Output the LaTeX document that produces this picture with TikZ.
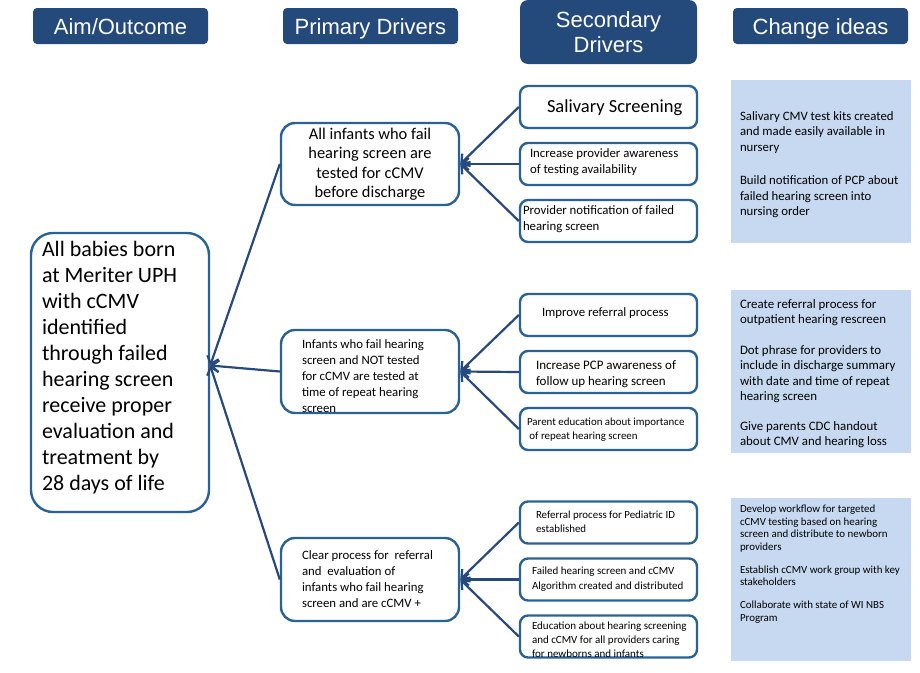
\documentclass[tikz,border=0pt]{standalone}
\usepackage{fontspec}
\setmainfont{Carlito}
\newfontfamily\hdfont{Liberation Sans}
\usetikzlibrary{arrows.meta}
\definecolor{hdblue}{RGB}{35,74,123}
\definecolor{bxblue}{RGB}{40,98,150}
\definecolor{arblue}{RGB}{38,74,125}
\definecolor{cifill}{RGB}{198,217,240}
\newcommand{\fs}[2]{\fontsize{#1}{#2}\selectfont}
\begin{document}
\begin{tikzpicture}[x=1pt,y=-1pt,
  hdr/.style={fill=hdblue, text=white, rounded corners=4pt, font=\hdfont\fs{22}{25}, align=center, inner sep=0pt, minimum width=175pt, minimum height=36pt},
  drv/.style={draw=bxblue, line width=2.4pt, fill=white, inner sep=0pt},
  pbox/.style={drv, rounded corners=14pt, minimum width=178pt, minimum height=83pt},
  sbox/.style={drv, rounded corners=8pt, minimum width=177pt, minimum height=42pt},
  cibox/.style={fill=cifill, inner sep=0pt, minimum width=180pt, minimum height=163pt},
  txt/.style={inner sep=0pt, align=left, anchor=west},
  conn/.style={draw=arblue, line width=2.2pt, -{Straight Barb[length=7pt,width=12pt]}}
]
\useasboundingbox (0,0) rectangle (920,672);

% headers
\node[hdr, text depth=0pt, text height=16pt] (hA) at (120.5,26) {Aim/Outcome};
\node[hdr, text depth=0pt, text height=16pt] (hP) at (370.5,26) {Primary Drivers};
\node[hdr, minimum width=177pt, minimum height=64pt, rounded corners=8pt] (hS) at (608.5,32) {Secondary\\Drivers};
\node[hdr, text depth=0pt, text height=16pt] (hC) at (820.5,26) {Change ideas};

% aim
\node[drv, rounded corners=22pt, minimum width=178pt, minimum height=279pt] (aim) at (120,372.5) {};
\node[txt, font=\fs{22}{26}] (aimt) at ([xshift=12pt,yshift=5pt]aim.west)
 {All babies born\\at Meriter UPH\\with cCMV\\identified\\through failed\\hearing screen\\receive proper\\evaluation and\\treatment by\\28 days of life};

% primary drivers
\node[pbox, minimum height=82pt, align=center, font=\fs{16.4}{19.5}] (p1) at (370,164)
 {All infants who fail\\hearing screen are\\tested for cCMV\\before discharge};
\node[pbox] (p2) at (370,371.5) {};
\node[txt, font=\fs{12.8}{16}] (p2t) at ([xshift=22pt,yshift=-5pt]p2.west)
 {Infants who fail hearing\\screen and NOT tested\\for cCMV are tested at\\time of repeat hearing\\screen};
\node[pbox] (p3) at (370,579.5) {};
\node[txt, font=\fs{12.8}{16}] (p3t) at ([xshift=22pt,yshift=0pt]p3.west)
 {Clear process for\ \ referral\\and\ \ evaluation of\\infants who fail hearing\\screen and are cCMV +};

% secondary drivers
\node[sbox] (s1) at (608.5,107) {};
\node[txt, font=\fs{18.5}{20}] (s1t) at ([xshift=28pt,yshift=-1pt]s1.west) {Salivary Screening};
\node[sbox] (s2) at (608.5,164) {};
\node[txt, font=\fs{12.8}{16}] (s2t) at ([xshift=11pt,yshift=2pt]s2.west) {Increase provider awareness\\of testing availability};
\node[sbox] (s3) at (608.5,221) {};
\node[txt, font=\fs{12.8}{16}] (s3t) at ([xshift=4pt,yshift=2pt]s3.west) {Provider notification of failed\\hearing screen};
\node[sbox] (s4) at (608.5,315) {};
\node[txt, font=\fs{12.8}{16}] (s4t) at ([xshift=23pt,yshift=2pt]s4.west) {Improve referral process};
\node[sbox] (s5) at (608.5,372) {};
\node[txt, font=\fs{13}{16}] (s5t) at ([xshift=17pt,yshift=-2pt]s5.west) {Increase PCP awareness of\\follow up hearing screen};
\node[sbox] (s6) at (608.5,429) {};
\node[txt, font=\fs{10.9}{14}] (s6t) at ([xshift=8pt,yshift=-1pt]s6.west) {Parent education about importance\\\ of repeat hearing screen};
\node[sbox] (s7) at (608.5,522.5) {};
\node[txt, font=\fs{10.9}{13.5}] (s7t) at ([xshift=17pt,yshift=1pt]s7.west) {Referral process for Pediatric ID\\established};
\node[sbox] (s8) at (608.5,579.5) {};
\node[txt, font=\fs{11}{15}] (s8t) at ([xshift=13pt]s8.west) {Failed hearing screen and cCMV\\Algorithm created and distributed};
\node[sbox] (s9) at (608.5,636.5) {};
\node[txt, font=\fs{11}{14}] (s9t) at ([xshift=13pt,yshift=-3pt]s9.west) {Education about hearing screening\\and cCMV for all providers caring\\for newborns and infants};

% change ideas
\node[cibox] (c1) at (821,161.5) {};
\node[txt, font=\fs{12.8}{15.5}] (c1t) at ([xshift=9pt,yshift=-3pt]c1.west)
 {Salivary CMV test kits created\\and made easily available in\\nursery\\[18pt]Build notification of PCP about\\failed hearing screen into\\nursing order};
\node[cibox] (c2) at (821,371.5) {};
\node[txt, font=\fs{12.9}{15.5}] (c2t) at ([xshift=9pt,yshift=-2pt]c2.west)
 {Create referral process for\\outpatient hearing rescreen\\[15pt]Dot phrase for providers to\\include in discharge summary\\with date and time of repeat\\hearing screen\\[14pt]Give parents CDC handout\\about CMV and hearing loss};
\node[cibox] (c3) at (821,579) {};
\node[txt, font=\fs{10.9}{12.5}] (c3t) at ([xshift=9pt,yshift=15pt]c3.west)
 {Develop workflow for targeted\\cCMV testing based on hearing\\screen and distribute to newborn\\providers\\[10.5pt]Establish cCMV work group with key\\stakeholders\\[10.5pt]Collaborate with state of WI NBS\\Program};

% connectors
\coordinate (aimin) at ([yshift=7pt]aim.east);
\foreach \s in {s1,s2,s3} \draw[conn] (\s.west) -- (p1.east);
\foreach \s in {s4,s5,s6} \draw[conn] (\s.west) -- (p2.east);
\foreach \s in {s7,s8,s9} \draw[conn] (\s.west) -- (p3.east);
\foreach \p in {p1,p2,p3} \draw[conn] (\p.west) -- (aimin);
\end{tikzpicture}
\end{document}
